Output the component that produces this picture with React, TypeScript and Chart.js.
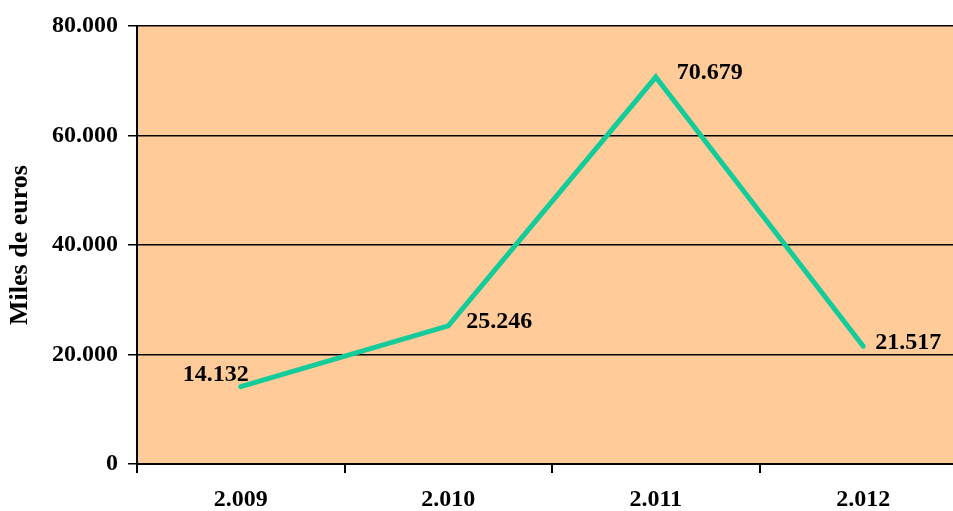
import React, { useEffect, useRef } from "react";
import { Chart, registerables } from "chart.js";

Chart.register(...registerables);

const categories = ["2.009", "2.010", "2.011", "2.012"];
const values = [14132, 25246, 70679, 21517];
const valueLabels = ["14.132", "25.246", "70.679", "21.517"];
const yTicks = [0, 20000, 40000, 60000, 80000];
const yTitle = "Miles de euros";

// label placement relative to each point (style only)
const labelOffsets = [
  [-25, -12],
  [51, -4],
  [54, -4],
  [45, -3],
];

const FONT = "'Liberation Serif', 'Times New Roman', serif";

function fmt(v: number): string {
  const s = Math.round(v).toString();
  return s.replace(/\B(?=(\d{3})+(?!\d))/g, ".");
}

export default function App() {
  const ref = useRef<HTMLCanvasElement | null>(null);
  useEffect(() => {
    if (!ref.current) return;
    const bgPlugin = {
      id: "bg",
      beforeDraw(chart: any) {
        const { ctx, chartArea } = chart;
        ctx.save();
        ctx.fillStyle = "#FFCC99";
        ctx.fillRect(chartArea.left, chartArea.top, chartArea.right - chartArea.left, chartArea.bottom - chartArea.top);
        ctx.restore();
      },
    };
    const labelPlugin = {
      id: "vlabels",
      afterDatasetsDraw(chart: any) {
        const { ctx } = chart;
        const meta = chart.getDatasetMeta(0);
        ctx.save();
        ctx.font = `bold 24px ${FONT}`;
        ctx.fillStyle = "#000";
        ctx.textAlign = "center";
        ctx.textBaseline = "middle";
        meta.data.forEach((pt: any, i: number) => {
          const [dx, dy] = labelOffsets[i];
          ctx.fillText(valueLabels[i], pt.x + dx, pt.y + dy);
        });
        ctx.restore();
      },
    };
    const chart = new Chart(ref.current, {
      type: "line",
      data: {
        labels: categories,
        datasets: [
          {
            data: values,
            borderColor: "#13CC99",
            borderWidth: 5,
            pointRadius: 0,
            tension: 0,
            borderCapStyle: "round",
            borderJoinStyle: "miter",
          },
        ],
      },
      options: {
        animation: false,
        responsive: false,
        maintainAspectRatio: false,
        layout: { padding: { top: 26, left: 0, right: 0, bottom: 0 } },
        plugins: { legend: { display: false }, tooltip: { enabled: false } },
        scales: {
          x: {
            type: "category",
            offset: true,
            grid: {
              offset: true,
              drawOnChartArea: false,
              drawTicks: true,
              tickLength: 9,
              color: "#000",
              lineWidth: 2,
            },
            border: { display: true, color: "#000", width: 2 },
            ticks: {
              color: "#000",
              font: { family: FONT, size: 24, weight: "bold" },
              padding: 12,
              maxRotation: 0,
            },
            afterFit(scale: any) {
              scale.height = 47;
            },
          },
          y: {
            min: 0,
            max: 80000,
            afterBuildTicks(scale: any) {
              scale.ticks = yTicks.map((v) => ({ value: v }));
            },
            grid: {
              color: "#000",
              lineWidth: 1.5,
              tickLength: 9,
              drawTicks: true,
            },
            border: { display: true, color: "#000", width: 2 },
            ticks: {
              color: "#000",
              font: { family: FONT, size: 24, weight: "bold" },
              padding: 10,
              callback: (v: any) => fmt(Number(v)),
            },
            title: {
              display: true,
              text: yTitle,
              color: "#000",
              font: { family: FONT, size: 26, weight: "bold" },
              padding: { top: 5, bottom: 0 },
            },
            afterFit(scale: any) {
              scale.width = 137;
            },
          },
        },
      },
      plugins: [bgPlugin, labelPlugin],
    } as any);
    return () => chart.destroy();
  }, []);
  return (
    <div style={{ position: "fixed", left: 0, top: 0, width: 953, height: 511, overflow: "hidden", background: "#fff" }}>
      <canvas ref={ref} width={967} height={511} style={{ display: "block" }} />
    </div>
  );
}
